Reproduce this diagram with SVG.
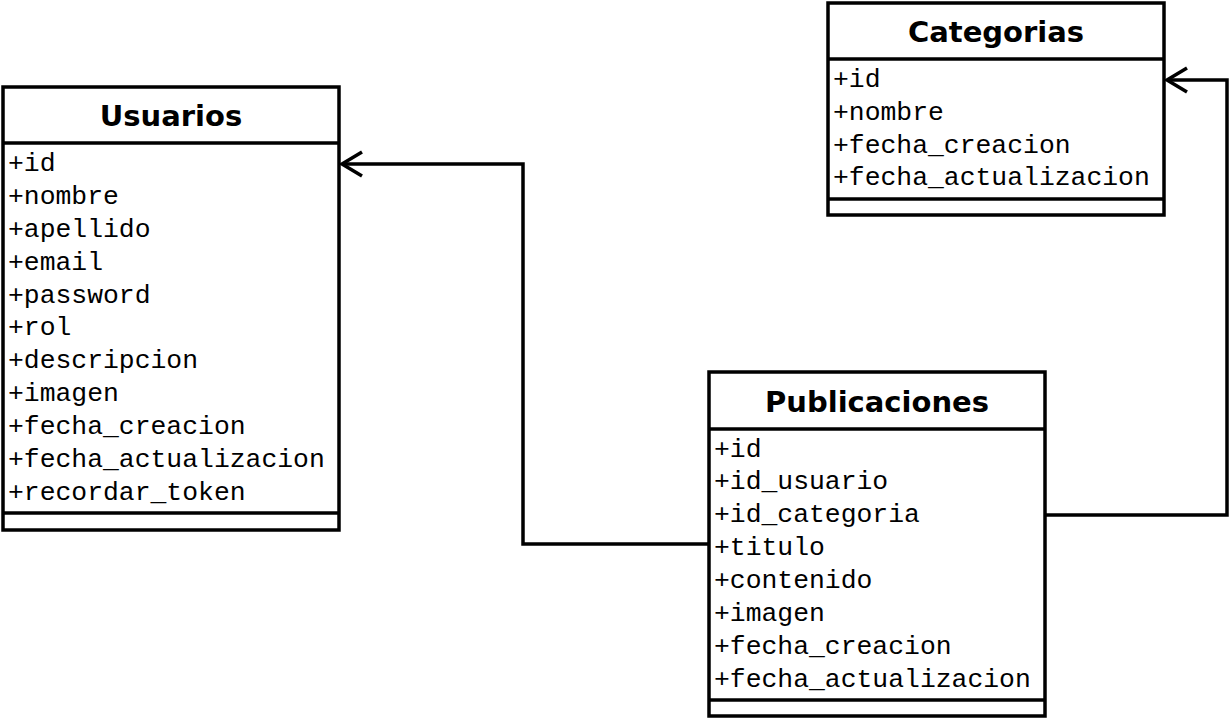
<svg xmlns="http://www.w3.org/2000/svg" width="1230" height="720" viewBox="0 0 1230 720">
<style>
.box{fill:#fff;stroke:#000;stroke-width:3.5}
.div{stroke:#000;stroke-width:3.5}
.title{font-family:"DejaVu Sans",Verdana,sans-serif;font-weight:bold;font-size:29px;text-anchor:middle;fill:#000}
.attr{font-family:"Courier New","Liberation Mono",monospace;font-size:26.4px;fill:#000}
.conn{fill:none;stroke:#000;stroke-width:3.5}
</style>
<rect width="1230" height="720" fill="#fff"/>
<g id="connectors">
<path class="conn" d="M708 544 H523 V164 H342"/>
<path class="conn" d="M362 152 L342 164 L362 176"/>
<path class="conn" d="M1046 515 H1227 V80 H1167"/>
<path class="conn" d="M1187 68 L1167 80 L1187 92"/>
</g>
<g id="usuarios">
<rect class="box" x="3" y="87" width="336" height="443"/>
<line class="div" x1="3" y1="143" x2="339" y2="143"/>
<line class="div" x1="3" y1="513" x2="339" y2="513"/>
<text class="title" x="171" y="126">Usuarios</text>
<text class="attr" x="8" y="171">+id</text>
<text class="attr" x="8" y="204">+nombre</text>
<text class="attr" x="8" y="237">+apellido</text>
<text class="attr" x="8" y="270">+email</text>
<text class="attr" x="8" y="303">+password</text>
<text class="attr" x="8" y="335">+rol</text>
<text class="attr" x="8" y="368">+descripcion</text>
<text class="attr" x="8" y="401">+imagen</text>
<text class="attr" x="8" y="434">+fecha_creacion</text>
<text class="attr" x="8" y="467">+fecha_actualizacion</text>
<text class="attr" x="8" y="500">+recordar_token</text>
</g>
<g id="publicaciones">
<rect class="box" x="709" y="372" width="336" height="344"/>
<line class="div" x1="709" y1="429" x2="1045" y2="429"/>
<line class="div" x1="709" y1="700" x2="1045" y2="700"/>
<text class="title" x="877" y="412">Publicaciones</text>
<text class="attr" x="714" y="457">+id</text>
<text class="attr" x="714" y="489">+id_usuario</text>
<text class="attr" x="714" y="522">+id_categoria</text>
<text class="attr" x="714" y="555">+titulo</text>
<text class="attr" x="714" y="588">+contenido</text>
<text class="attr" x="714" y="621">+imagen</text>
<text class="attr" x="714" y="654">+fecha_creacion</text>
<text class="attr" x="714" y="687">+fecha_actualizacion</text>
</g>
<g id="categorias">
<rect class="box" x="828" y="3" width="336" height="212"/>
<line class="div" x1="828" y1="59" x2="1164" y2="59"/>
<line class="div" x1="828" y1="199" x2="1164" y2="199"/>
<text class="title" x="996" y="42">Categorias</text>
<text class="attr" x="833" y="87">+id</text>
<text class="attr" x="833" y="120">+nombre</text>
<text class="attr" x="833" y="153">+fecha_creacion</text>
<text class="attr" x="833" y="185">+fecha_actualizacion</text>
</g>
</svg>
